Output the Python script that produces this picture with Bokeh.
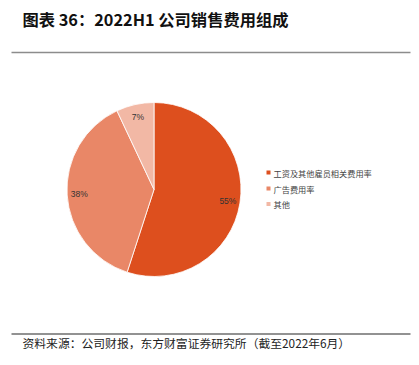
import numpy as np
from bokeh.plotting import figure
from bokeh.models import Range1d, ColumnDataSource
from bokeh.core.properties import value
from bokeh.embed import file_html
from bokeh.resources import INLINE

title_text = "图表 36：2022H1 公司销售费用组成"
source_text = "资料来源：公司财报，东方财富证券研究所（截至2022年6月）"
categories = ["工资及其他雇员相关费用率", "广告费用率", "其他"]
shares = [55, 38, 7]
labels = ["55%", "38%", "7%"]
colors = ["#DD4F1E", "#E98767", "#F2B8A5"]

W, H = 411, 357
p = figure(width=W, height=H, output_backend="svg", toolbar_location=None,
           x_range=Range1d(0, W), y_range=Range1d(0, H), min_border=0)
p.axis.visible = False
p.grid.visible = False
p.outline_line_color = None
p.background_fill_color = "white"

def py(y_page):
    return H - y_page

def px(x_page):
    return x_page

FONT = value("Noto Sans CJK SC")

# title
p.text(x=[px(22)], y=[py(18)], text=[title_text], text_font=FONT,
       text_font_size="16.3px", text_font_style="bold", text_color="#111111",
       text_baseline="middle", text_align="left")

# rules
p.segment(x0=[px(11)], y0=[py(52)], x1=[px(410)], y1=[py(52)], line_color="#8c8c8c", line_width=1.5)
p.segment(x0=[px(11)], y0=[py(333.5)], x1=[px(410)], y1=[py(333.5)], line_color="#6e6e6e", line_width=1.3)

# source
p.text(x=[px(22)], y=[py(342)], text=[source_text], text_font=FONT,
       text_font_size="11.8px", text_color="#222222",
       text_baseline="middle", text_align="left")

# pie: start at top, clockwise
cx, cy, r = px(153.5), py(189), 87
fr = np.array(shares, dtype=float) / sum(shares)
cum = np.concatenate([[0], np.cumsum(fr)])
start = np.pi / 2 - cum[1:] * 2 * np.pi
end = np.pi / 2 - cum[:-1] * 2 * np.pi
src = ColumnDataSource(dict(start=start, end=end, color=colors))
p.wedge(x=cx, y=cy, radius=r, start_angle="start", end_angle="end",
        fill_color="color", line_color="white", line_width=0.8, source=src)

# labels
mid = (start + end) / 2
lr = np.array([0.86, 0.86, 0.85]) * r
lx = cx + lr * np.cos(mid)
ly = cy + lr * np.sin(mid)
p.text(x=lx, y=ly, text=labels, text_font=value("Liberation Sans"),
       text_font_size="8.5px", text_color="#333333",
       text_align="center", text_baseline="middle")

# legend
ly0 = [py(172), py(188), py(203.5)]
p.rect(x=[px(268)] * 3, y=ly0, width=4, height=4, fill_color=colors, line_color=None)
p.text(x=[px(273)] * 3, y=ly0, text=categories, text_font=FONT,
       text_font_size="8.2px", text_color="#444444",
       text_align="left", text_baseline="middle")

open("out.html", "w").write(file_html(p, INLINE))
